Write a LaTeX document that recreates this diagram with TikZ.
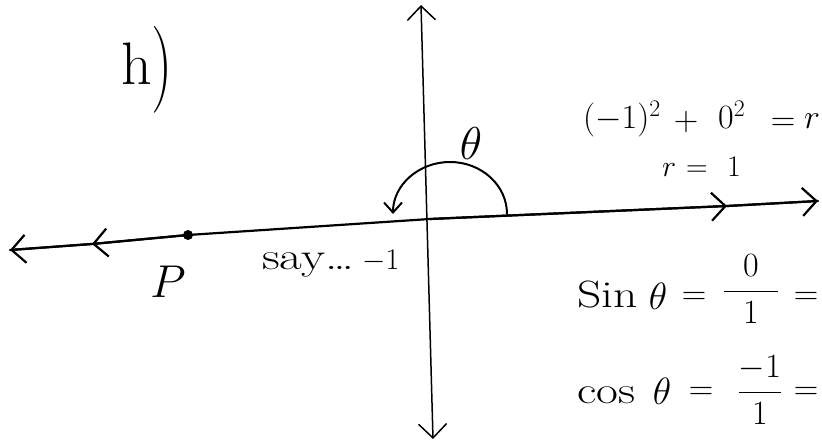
\RequirePackage{fix-cm}
\documentclass[tikz,border=0pt]{standalone}
\usetikzlibrary{arrows.meta}
\begin{document}
\begin{tikzpicture}[x=1pt,y=1pt,
  ink/.style={line cap=round,line join=round,black},
  axis/.style={ink,line width=1.5pt},
  hline/.style={ink,line width=2.2pt},
  arcline/.style={ink,line width=2pt},
  >={Straight Barb[length=14pt,width=28pt]},
  smallbarb/.style={-{Straight Barb[length=10pt,width=18pt]}},
  txt/.style={inner sep=0pt},
  f30/.style={txt,font=\fontsize{30}{36}\selectfont},
  f34/.style={txt,font=\fontsize{34}{40}\selectfont},
  f38/.style={txt,font=\fontsize{38}{44}\selectfont},
  f46/.style={txt,font=\fontsize{46}{54}\selectfont},
  f60/.style={txt,font=\fontsize{60}{70}\selectfont}]
\useasboundingbox (0,0) rectangle (822,442);
% vertical axis
\coordinate (vtop) at (421,437);
\coordinate (vbot) at (433,3);
\draw[axis,<->] (vbot) -- (vtop);
% horizontal axis
\coordinate (hl) at (10,192);
\coordinate (hl2) at (92,198);
\coordinate (o) at (430,223);
\coordinate (hr2) at (727,236);
\coordinate (hr) at (818,241);
\node[circle,fill=black,inner sep=0pt,minimum size=10pt] (p) at (188,207) {};
\draw[hline] (hl) -- (hl2) -- (p.center) -- (o) -- (hr2) -- (hr);
\draw[hline,->] (p.center) -- (hl2);
\draw[hline,->] (hl2) -- (hl);
\draw[hline,->] (o) -- (hr2);
\draw[hline,->] (hr2) -- (hr);
% angle arc
\coordinate (arcstart) at (507,228);
\draw[arcline,smallbarb] (arcstart) arc[start angle=0,end angle=180,x radius=57,y radius=52];
% part label
\node[f60,anchor=base west] (lblh) at (121,357) {h};
\node[f60] (lblparen) at (162,372) {\scalebox{1}[1.45]{)}};
% angle label
\node[f46] (theta) at (471,298) {$\theta$};
% r equation
\node[f34,anchor=base west] (eqa) at (583,313) {$(-1)^2$};
\node[f34] (eqplus) at (686,320) {$+$};
\node[f34,anchor=base west] (eqb) at (718,313) {$0^2$};
\node[f34] (eqeq) at (783,318) {$=$};
\node[f34,anchor=base west] (eqr) at (804,313) {$r$};
\node[f30,anchor=base west] (r1a) at (662,265) {$r$};
\node[f30] (r1eq) at (697,271) {$=$};
\node[f30,anchor=base west] (r1b) at (727,265) {$1$};
% point label
\node[f46] (lblp) at (168,160) {$P$};
\node[f38,anchor=base west] (say) at (262,172) {\scalebox{1.3}[1]{say\ldots}};
\node[f30,anchor=base west] (say1) at (362,172) {$-1$};
% sine row
\node[f38,anchor=base west] (sina) at (577,134) {\scalebox{1.25}[1]{Sin}};
\node[f38] (sinth) at (658,146) {$\theta$};
\node[f34] (sineq) at (694,144) {$=$};
\node[f34] (sinfr) at (751,153) {$\displaystyle\frac{\;\;0\;\;}{1}$};
\node[f34] (sineq2) at (806,144) {$=$};
% cosine row
\node[f38,anchor=base west] (cosa) at (577,38) {\scalebox{1.25}[1]{cos}};
\node[f38] (costh) at (662,51) {$\theta$};
\node[f34] (coseq) at (701,49) {$=$};
\node[f34] (cosfr) at (760,52) {$\displaystyle\frac{-1}{1}$};
\node[f34] (coseq2) at (806,49) {$=$};
\end{tikzpicture}
\end{document}
